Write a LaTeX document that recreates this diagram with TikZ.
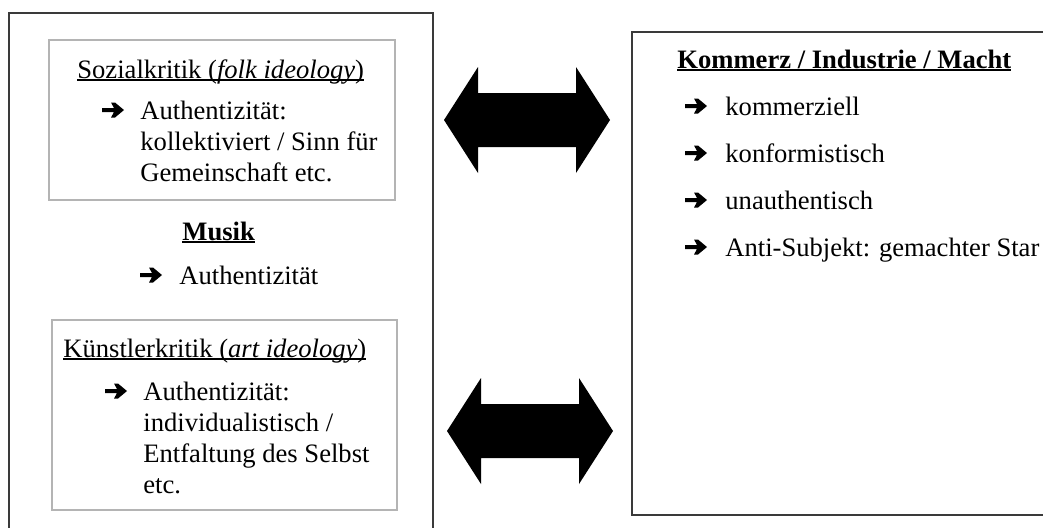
\documentclass[tikz,border=0pt]{standalone}
\usepackage{fontspec}
\setmainfont{Liberation Serif}
\usepackage{xcolor}
\usepackage{tikz}
\definecolor{frame}{HTML}{3A3A3A}
\definecolor{frameL}{HTML}{B4B4B4}
\newsavebox\ulbox
\newcommand\uln[1]{\sbox\ulbox{#1}\rlap{\rule[-1.4pt]{\wd\ulbox}{.7pt}}\usebox\ulbox}
\newcommand\fs{\fontsize{13.3}{15.5}\selectfont}
\tikzset{
  outer/.style ={draw=frame, line width=.8pt, inner sep=0pt},
  inner/.style ={draw=frameL, line width=.7pt, inner sep=0pt},
  txt/.style   ={anchor=base west, inner sep=0pt, font=\fs, text=black},
  pfeil/.pic   ={\fill[black] (0,-11) -- (12,-11) -- (9,-16.5) -- (13,-16.5) -- (22,-9)
                 -- (13,-1.5) -- (9,-1.5) -- (12,-7) -- (0,-7) -- cycle;},
  bigarrow/.pic={\fill[black] (-83,0) -- (-49,-53) -- (-49,-27) -- (49,-27) -- (49,-53)
                 -- (83,0) -- (49,53) -- (49,27) -- (-49,27) -- (-49,53) -- cycle;},
}
\begin{document}
\begin{tikzpicture}[x=0.5pt,y=-0.5pt]
  \clip (0,0) rectangle (1043,527);
  \fill[white] (0,0) rectangle (1043,527);
  % frames
  \node[outer, minimum width=212pt, minimum height=273.5pt](links) at (221,286.5){};
  \node[outer, minimum width=214pt, minimum height=241.5pt](rechts) at (846,273.5){};
  \node[inner, minimum width=173pt, minimum height=80pt](sozial) at (222,120){};
  \node[inner, minimum width=172.5pt, minimum height=95pt](kuenstler) at (224.5,415){};
  % block arrows
  \pic at (527,120){bigarrow};
  \pic at (530,431){bigarrow};
  % Sozialkritik
  \node[txt](s0) at (77,78){\uln{Sozialkritik (\textit{folk ideology})}};
  \pic at (102,119){pfeil};
  \node[txt](s1) at (140,119){Authentizität:};
  \node[txt](s2) at ([yshift=-15.5pt]s1.base west){kollektiviert / Sinn für};
  \node[txt](s3) at ([yshift=-15.5pt]s2.base west){Gemeinschaft etc.};
  % Musik
  \node[txt](m0) at (182,240){\uln{\textbf{Musik}}};
  \pic at (140,284){pfeil};
  \node[txt](m1) at (179,284){Authentizität};
  % Kuenstlerkritik
  \node[txt](k0) at (63,357){\uln{Künstlerkritik (\textit{art ideology})}};
  \pic at (105,400){pfeil};
  \node[txt](k1) at (143,400){Authentizität:};
  \node[txt](k2) at ([yshift=-15.5pt]k1.base west){individualistisch /};
  \node[txt](k3) at ([yshift=-15.5pt]k2.base west){Entfaltung des Selbst};
  \node[txt](k4) at ([yshift=-15.5pt]k3.base west){etc.};
  % Kommerz
  \node[txt](r0) at (677,68){\uln{\textbf{Kommerz / Industrie / Macht}}};
  \node[txt](r1) at (725,115){kommerziell};
  \node[txt](r2) at ([yshift=-23.5pt]r1.base west){konformistisch};
  \node[txt](r3) at ([yshift=-23.5pt]r2.base west){unauthentisch};
  \node[txt](r4) at ([yshift=-23.5pt]r3.base west){Anti-Subjekt: gemachter Star};
  \foreach \y in {115,162,209,256}
    \pic at (685,\y){pfeil};
\end{tikzpicture}
\end{document}
